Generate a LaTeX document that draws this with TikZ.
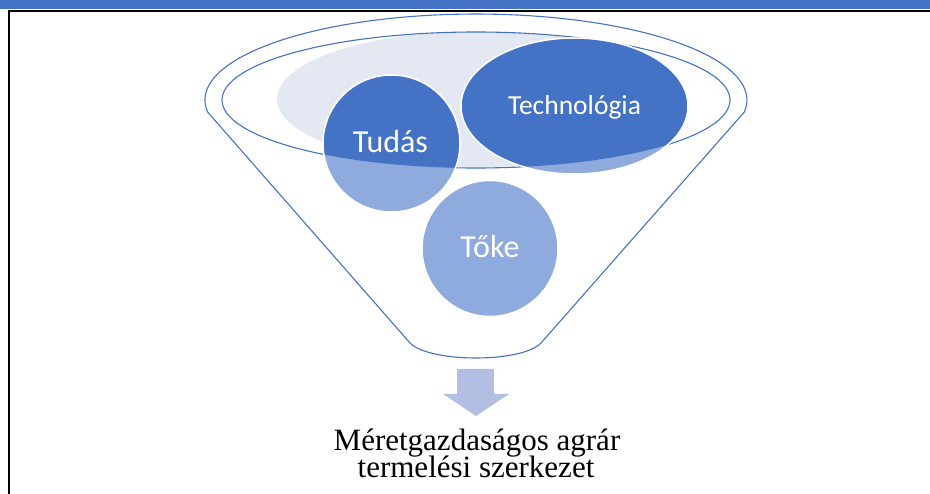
\documentclass[tikz,border=0pt]{standalone}
\usepackage{fontspec}
\setmainfont{Liberation Serif}
\newfontfamily\calib{Carlito}
\definecolor{dkblue}{RGB}{68,114,196}
\definecolor{ltblue}{RGB}{143,170,220}
\definecolor{paleblue}{RGB}{227,232,243}
\definecolor{arrowblue}{RGB}{178,190,226}
\begin{document}
\begin{tikzpicture}[x=1pt,y=1pt,
  funnelline/.style={draw=dkblue, line width=1.1pt},
  ballrim/.style={draw=white, line width=1.5pt},
  lbl/.style={text=white, font=\calib\fontsize{32}{38}\selectfont, anchor=base, inner sep=0pt},
  result/.style={text=black, font=\fontsize{31}{37}\selectfont, anchor=base, inner sep=0pt}]
\useasboundingbox (0,0) rectangle (930,-494);
% header bar and frame
\fill[dkblue] (0,0) rectangle (930,-9);
\draw[line width=2.2pt, black] (9,-494) -- (9,-11) -- (930,-11);
% pale top face
\begin{scope}
  \clip (476,-100) ellipse [x radius=254, y radius=68];
  \fill[paleblue] (480,-99) ellipse [x radius=203, y radius=68];
\end{scope}
% funnel outline
\draw[funnelline] (207.6,-112) arc[start angle=188, end angle=-8, x radius=271, y radius=86]
  -- (541,-343) .. controls (522,-363) and (430,-363) .. (410,-343) -- cycle;
\draw[funnelline] (476,-100) ellipse [x radius=254, y radius=68];
% balls
\fill[ltblue] (391.5,-143.5) circle [radius=68.5];
\fill[ltblue] (574.5,-106) ellipse [x radius=113.5, y radius=68];
\fill[ltblue] (490,-248.5) circle [radius=68];
\begin{scope}
  \clip (476,-100) ellipse [x radius=254, y radius=68];
  \fill[dkblue] (391.5,-143.5) circle [radius=68.5];
  \fill[dkblue] (574.5,-106) ellipse [x radius=113.5, y radius=68];
\end{scope}
\draw[ballrim] (391.5,-143.5) circle [radius=68.5];
\draw[ballrim] (574.5,-106) ellipse [x radius=113.5, y radius=68];
\draw[ballrim] (490,-248.5) circle [radius=68];
% labels
\node[lbl] (tudas) at (390.5,-153) {Tudás};
\node[lbl, font=\calib\fontsize{27.5}{33}\selectfont] (tech) at (574.5,-115) {Technológia};
\node[lbl] (toke) at (490,-258) {Tőke};
% arrow
\fill[arrowblue] (457,-369) -- (494,-369) -- (494,-394) -- (509,-394) -- (476,-416)
  -- (443,-394) -- (457,-394) -- cycle;
% result text
\node[result] (res1) at (477,-450) {Méretgazdaságos agrár};
\node[result] (res2) at (476,-478) {termelési szerkezet};
\end{tikzpicture}
\end{document}
